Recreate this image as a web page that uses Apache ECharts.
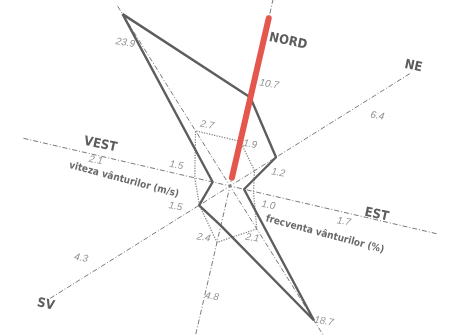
<!DOCTYPE html>
<html>
<head>
<meta charset="utf-8">
<script src="https://cdn.jsdelivr.net/npm/echarts@6/dist/echarts.min.js"></script>
<style>
  html, body { margin: 0; background: #fff; }
  #chart { width: 450px; height: 335px; }
</style>
</head>
<body>
<div id="chart"></div>
<script>
// directii (sensul acelor de ceasornic, de la nord)
const directions = ["N", "NE", "E", "SE", "S", "SV", "V", "NV"];
const axisNames = ["NORD", "NE", "EST", "", "", "SV", "VEST", ""];
const frequency = [10.7, 6.4, 1.7, 18.7, 4.8, 4.3, 2.1, 23.9]; // %
const speed = [1.9, 1.2, 1.0, 2.1, 2.4, 1.5, 1.5, 2.7]; // m/s
const northMarker = 20.3; // linia rosie pe directia nord
const seriesNames = ["frecventa vânturilor (%)", "viteza vânturilor (m/s)"];

// asezarea etichetelor: [raza pe scara frecventei, dx, dy]
const freqLabelPos = [[13.0, 15, 3], [19.5, 10, 16], [14.2, -2, 9], [19.2, 7, -4],
  [13.0, 7, 2], [19.7, -10, -15], [16.0, -1, 5], [20.6, -11, 7]];
const speedLabelPos = [[5.5, 10, 2], [5.9, 8, 12], [5.1, -2, 10], [6.7, -7, 5],
  [6.9, -14, -3], [7.0, -6, -10], [6.9, 2, -8], [7.8, 11, -7]];
const nameLabelPos = [[18.7, 24, 5], [24.5, 5, -11], [17.5, 1, -5], null,
  null, [25, -3, 7], [16.2, 2, -11], null];
const seriesLabelPos = [[2, 13.0, -6, 26], [6, 11.8, -4, 18]]; // [dir, r, dx, dy]

const step = 360 / directions.length;
const center = [230, 186];
const radius = 212;

function ring(vals) {
  const pts = vals.map((v, i) => [v, i * step]);
  pts.push([vals[0], 0]);
  return pts;
}

function labelItems(texts, pos) {
  const out = [];
  texts.forEach((t, i) => {
    if (!t || !pos[i]) return;
    out.push({ name: t, value: [pos[i][0], i * step], label: { offset: [pos[i][1], pos[i][2]] } });
  });
  return out;
}

function textSeries(data, label) {
  return {
    type: "scatter",
    coordinateSystem: "polar",
    polarIndex: 0,
    symbolSize: 1,
    itemStyle: { color: "rgba(0,0,0,0)" },
    silent: true,
    label: Object.assign({ show: true, position: "inside", formatter: "{b}" }, label),
    data: data
  };
}

function angleAxis(idx, showSpokes) {
  return {
    polarIndex: idx,
    type: "value",
    min: 0,
    max: 360,
    interval: 45,
    startAngle: 77,
    clockwise: true,
    axisLine: { show: false },
    axisTick: { show: false },
    axisLabel: { show: false },
    splitLine: {
      show: showSpokes,
      lineStyle: { color: "#7a7a7a", width: 1, type: [5, 2, 1, 2] }
    }
  };
}

function radiusAxis(idx, max) {
  return {
    polarIndex: idx,
    type: "value",
    min: 0,
    max: max,
    axisLine: { show: false },
    axisTick: { show: false },
    axisLabel: { show: false },
    splitLine: { show: false }
  };
}

const chart = echarts.init(document.getElementById("chart"));
chart.setOption({
  backgroundColor: "#fff",
  animation: false,
  polar: [
    { center: center, radius: radius },
    { center: center, radius: radius }
  ],
  angleAxis: [angleAxis(0, true), angleAxis(1, false)],
  radiusAxis: [radiusAxis(0, 25), radiusAxis(1, 8.8)],
  series: [
    {
      name: seriesNames[1],
      type: "line",
      coordinateSystem: "polar",
      polarIndex: 1,
      symbol: "none",
      lineStyle: { color: "#8a8a8a", width: 1.3, type: "dotted" },
      data: ring(speed)
    },
    {
      name: seriesNames[0],
      type: "line",
      coordinateSystem: "polar",
      polarIndex: 0,
      symbol: "none",
      lineStyle: { color: "#5e5e5e", width: 2.4 },
      data: ring(frequency)
    },
    {
      type: "line",
      coordinateSystem: "polar",
      polarIndex: 0,
      symbol: "none",
      lineStyle: { color: "#e5564d", width: 6, cap: "round" },
      data: [[1, 0], [northMarker, 0]]
    },
    textSeries(labelItems(frequency.map(v => v.toFixed(1)), freqLabelPos), {
      color: "#777", fontSize: 10, fontStyle: "italic", fontFamily: "Liberation Sans", rotate: -10
    }),
    textSeries(labelItems(speed.map(v => v.toFixed(1)), speedLabelPos), {
      color: "#777", fontSize: 10, fontStyle: "italic", fontFamily: "Liberation Sans", rotate: -10
    }),
    textSeries(labelItems(axisNames, nameLabelPos), {
      color: "#333", fontSize: 13, fontWeight: "bold",
      fontFamily: "\"Liberation Sans Narrow\", \"DejaVu Sans Condensed\", sans-serif", rotate: -12
    }),
    textSeries(seriesLabelPos.map((p, k) => ({
      name: seriesNames[k], value: [p[1], p[0] * step], label: { offset: [p[2], p[3]] }
    })), {
      color: "#444", fontSize: 10, fontWeight: "bold", fontFamily: "\"DejaVu Sans Condensed\", sans-serif", rotate: -15
    })
  ]
});
</script>
</body>
</html>
